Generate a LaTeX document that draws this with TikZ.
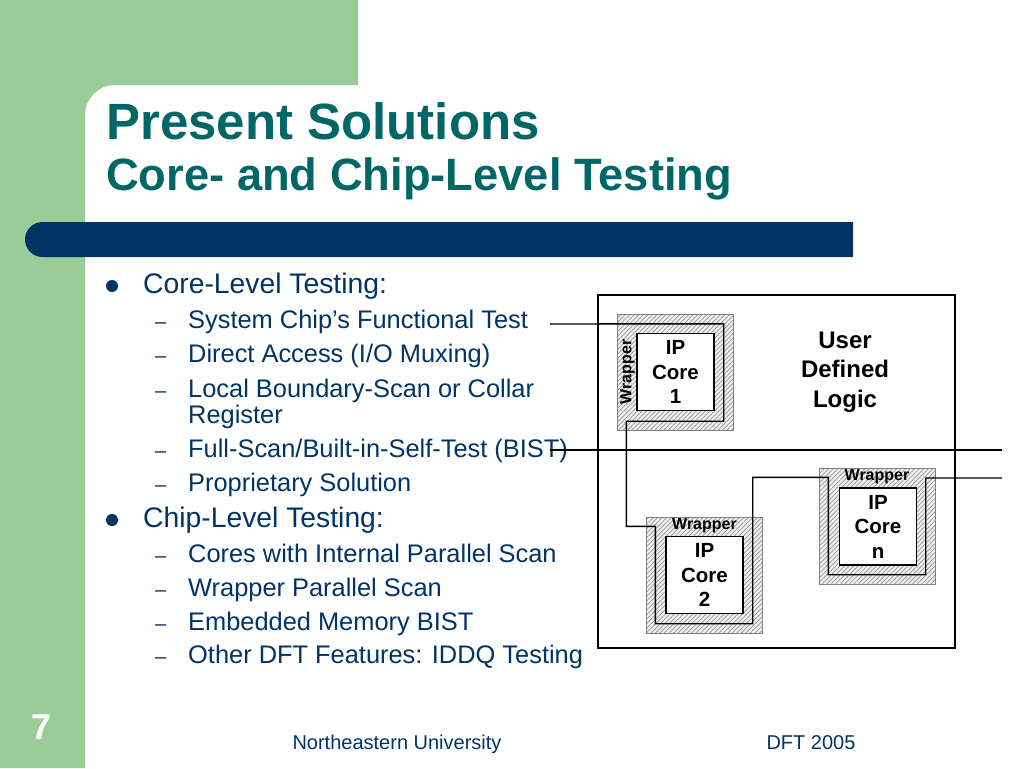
\documentclass[tikz,border=0pt]{standalone}
\usepackage{fontspec}
\setmainfont{Liberation Sans}
\usetikzlibrary{patterns.meta}
\definecolor{slidegreen}{RGB}{153,204,153}
\definecolor{slideblue}{RGB}{0,51,102}
\definecolor{titleteal}{RGB}{0,102,102}
\tikzset{
  chipbox/.style={draw,line width=2.4pt,minimum width=357pt,minimum height=353pt,inner sep=0pt},
  wrapbox/.style={draw=gray,line width=0.8pt,minimum size=116pt,inner sep=0pt,
    preaction={fill=gray!12},pattern={Lines[angle=45,distance=3.2pt,line width=0.7pt]},pattern color=gray!85},
  corebox/.style={draw,line width=1.8pt,fill=white,minimum size=77pt,inner sep=0pt,align=center,
    font=\bfseries\fontsize{20.5}{24.5}\selectfont},
  loopbox/.style={minimum size=97pt,inner sep=0pt},
  wire/.style={line width=1.4pt},
  wraplabel/.style={inner sep=0pt,font=\bfseries\fontsize{16}{16}\selectfont},
  bulletdot/.style={circle,fill=slideblue,minimum size=12pt,inner sep=0pt},
  bulletline/.style={anchor=base west,inner sep=0pt,text=slideblue,font=\fontsize{28.3}{30}\selectfont},
  subline/.style={anchor=base west,inner sep=0pt,text=slideblue,font=\fontsize{25.4}{27}\selectfont},
  subdash/.style={anchor=base west,inner sep=0pt,text=slideblue,font=\fontsize{20}{20}\selectfont},
  footline/.style={anchor=base,inner sep=0pt,text=slideblue,font=\fontsize{20}{20}\selectfont}
}
\begin{document}
\begin{tikzpicture}[x=1pt,y=-1pt]
  \useasboundingbox (0,0) rectangle (1024,768);
  \fill[slidegreen] (0,0) -- (358,0) -- (358,85) -- (115,85)
    arc[start angle=90,end angle=180,radius=30pt] -- (85,768) -- (0,768) -- cycle;
  \fill[slideblue] (853,222) -- (42.5,222)
    arc[start angle=90,end angle=270,radius=17.5pt] -- (853,257) -- cycle;
  \node[anchor=base west,inner sep=0pt,text=titleteal,font=\bfseries\fontsize{51}{51}\selectfont]
    (title) at (106,139) {Present Solutions};
  \node[anchor=base west,inner sep=0pt,text=titleteal,font=\bfseries\fontsize{45.3}{45}\selectfont]
    (subtitle) at (106,190) {Core- and Chip-Level Testing};
  \node[bulletdot] (b1) at (112,286) {};
  \node[bulletline] (corelvl) at (143,293) {Core-Level Testing:};
  \node[bulletdot] (b2) at (112,520) {};
  \node[bulletline] (chiplvl) at (143,527) {Chip-Level Testing:};
  \foreach \y/\t [count=\i] in {328/{System Chip’s Functional Test},
      362/{Direct Access (I/O Muxing)},
      397/{Local Boundary-Scan or Collar},
      457/{Full-Scan/Built-in-Self-Test (BIST)},
      491/{Proprietary Solution},
      562/{Cores with Internal Parallel Scan},
      596/{Wrapper Parallel Scan},
      630/{Embedded Memory BIST},
      663/{Other DFT Features: IDDQ Testing}}
  {
    \node[subdash] (d\i) at (155,\y) {–};
    \node[subline] (s\i) at (188,\y) {\t};
  }
  \node[subline] (s3b) at (188,423) {Register};
  \node[chipbox] (chip) at (776.5,471.5) {};
  \node[align=center,font=\bfseries\fontsize{24}{29.5}\selectfont] (udl) at (845,372) {User\\Defined\\Logic};
  \node[wrapbox] (w1) at (675,372.5) {};
  \node[corebox] (c1) at (675.5,372) {IP\\Core\\1};
  \node[loopbox] (l1) at (675,372.5) {};
  \node[wrapbox] (w2) at (704,575) {};
  \node[corebox] (c2) at (704.5,575) {IP\\Core\\2};
  \node[loopbox] (l2) at (704,575) {};
  \node[wrapbox] (w3) at (877,526) {};
  \node[corebox] (c3) at (878,526.5) {IP\\Core\\n};
  \node[loopbox] (l3) at (877,526) {};
  \node[wraplabel,rotate=90] (wl1) at (627.5,372) {Wrapper};
  \node[wraplabel] (wl2) at (704.5,526) {Wrapper};
  \node[wraplabel] (wl3) at (877,477) {Wrapper};
  \coordinate (in1) at (550,324);
  \coordinate (in2) at (550,450);
  \coordinate (out1) at (1002,450);
  \coordinate (out2) at (1002,478);
  \draw[wire] (in1) -- (l1.north east) -- (l1.south east) -- (l1.south west)
    |- (l2.north west) -- (l2.south west) -- (l2.south east)
    |- (l3.north west) -- (l3.south west) -- (l3.south east) |- (out2);
  \draw[wire] (in2) -- (out1);
  \node[anchor=base,inner sep=0pt,text=white,font=\bfseries\fontsize{36}{36}\selectfont] (num) at (42,739) {7};
  \node[footline] (univ) at (397,749) {Northeastern University};
  \node[footline] (conf) at (811,749) {DFT 2005};
\end{tikzpicture}
\end{document}
